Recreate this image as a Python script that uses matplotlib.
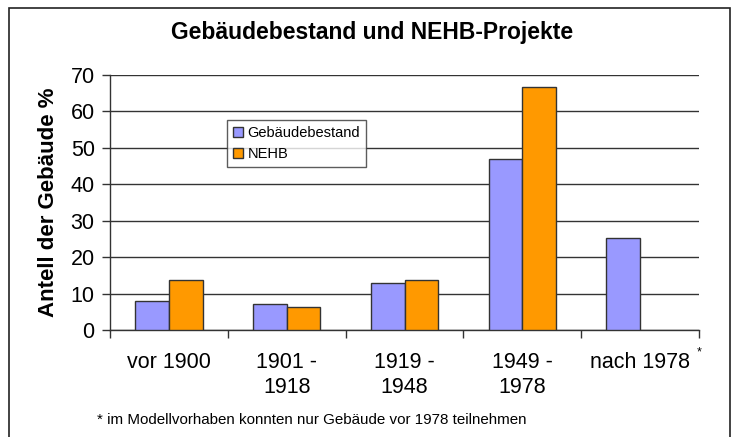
import matplotlib
matplotlib.use("Agg")
import matplotlib.pyplot as plt
import numpy as np
from matplotlib.patches import Rectangle

plt.rcParams['font.family'] = ['Liberation Sans', 'DejaVu Sans']

categories = ["vor 1900", "1901 -\n1918", "1919 -\n1948", "1949 -\n1978", "nach 1978"]
gebaeudebestand = [8.0, 7.1, 13.0, 47.0, 25.1]
nehb = [13.6, 6.4, 13.6, 66.6, np.nan]
yticks = [0, 10, 20, 30, 40, 50, 60, 70]

fig = plt.figure(figsize=(7.36, 4.37), dpi=100)
ax = fig.add_axes([110/736, 1-330/437, 589/736, (330-74.7)/437])

x = np.arange(len(categories))
w = 1/3.5
edge = '#333333'
b1 = ax.bar(x - w/2, gebaeudebestand, w, color='#9999FF', edgecolor=edge, linewidth=1.0, label='Gebäudebestand', zorder=3)
b2 = ax.bar(x + w/2, nehb, w, color='#FF9900', edgecolor=edge, linewidth=1.0, label='NEHB', zorder=3)

ax.set_xlim(-0.5, len(categories) - 0.5)
ax.set_ylim(0, 70)
ax.set_yticks(yticks)
ax.set_yticklabels([str(v) for v in yticks], fontsize=15.5)
ax.yaxis.grid(True, color='#333333', linewidth=1.0, zorder=0)
ax.set_axisbelow(True)

ax.set_xticks(np.arange(len(categories) + 1) - 0.5)
ax.set_xticklabels([])
ax.set_xticks(x, minor=True)
ax.set_xticklabels(categories, minor=True, fontsize=15.5, linespacing=1.25)
ax.tick_params(axis='x', which='minor', length=0, pad=16)
ax.tick_params(axis='x', which='major', length=6, width=1, color='#333333', direction='out')
ax.tick_params(axis='y', length=6, width=1, color='#333333', direction='out', pad=5)

for s in ['top', 'right']:
    ax.spines[s].set_visible(False)
for s in ['left', 'bottom']:
    ax.spines[s].set_color('#333333')
    ax.spines[s].set_linewidth(1.0)

ax.set_ylabel("Antell der Gebäude %", fontsize=16, fontweight='bold', labelpad=8)

fig.text(372/736, 1-33/437, "Gebäudebestand und NEHB-Projekte", ha='center', va='center',
         fontsize=16.5, fontweight='bold')

fig.text(697/736, 1-352/437, "*", ha='left', va='center', fontsize=9)
fig.text(97/736, 1-420/437, "* im Modellvorhaben konnten nur Gebäude vor 1978 teilnehmen",
         ha='left', va='center', fontsize=10.9)

leg = fig.legend(handles=[b1, b2], loc='upper left', bbox_to_anchor=(227/736, 1-120/437),
                 fontsize=10.5, frameon=True, fancybox=False, edgecolor='#333333',
                 handlelength=0.7, handleheight=0.7, handletextpad=0.3, borderpad=0.4,
                 labelspacing=0.5, borderaxespad=0)
leg.get_frame().set_linewidth(1.0)

border = Rectangle((9/736, -0.05), (730-9)/736, 1.05-8/437, transform=fig.transFigure,
                   fill=False, edgecolor='#222222', linewidth=1.2)
fig.patches.append(border)

fig.savefig("out.png", dpi=100)
